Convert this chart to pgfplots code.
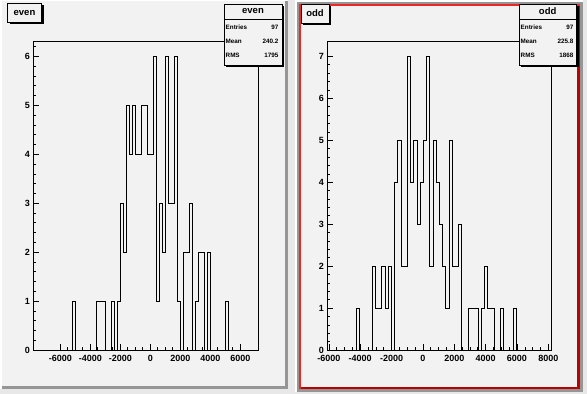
\documentclass[border=0pt]{standalone}
\usepackage{pgfplots}
\pgfplotsset{compat=1.18}
\usepackage{fontspec}
\setmainfont{Liberation Sans}
\definecolor{padbg}{RGB}{242,242,242}
\definecolor{canvasbg}{RGB}{232,232,232}
\definecolor{bevelgrey}{RGB}{150,150,150}
\definecolor{redlight}{RGB}{235,40,40}
\definecolor{reddark}{RGB}{190,0,0}
\pgfplotsset{roothist/.style={
  scale only axis, anchor=south west, height=308.3pt, ymin=0,
  axis line style={line width=0.8pt},
  tick align=inside, xtick pos=left, ytick pos=left,
  major tick length=6pt, minor tick length=3pt,
  tick style={black, line width=0.6pt},
  minor y tick num=4, minor x tick num=3,
  ticklabel style={font=\bfseries\fontsize{9}{9}\selectfont},
  xticklabel style={yshift=-1.5pt},
  ytick={0,1,2,3,4,5,6,7}, yticklabels={0,1,2,3,4,5,6,7},
}}
\newcommand{\shbox}[4]{%
  \fill[black] (#1+2,#2+2) rectangle (#3+2,#4+2);
  \filldraw[fill=padbg, draw=black, line width=0.8pt] (#1,#2) rectangle (#3,#4);
}
\newcommand{\bigf}{\bfseries\fontsize{9.5}{9.5}\selectfont}
\newcommand{\smallf}{\bfseries\fontsize{6.3}{6.3}\selectfont}
\begin{document}
\begin{tikzpicture}[x=1pt,y=1pt]
\useasboundingbox (0,0) rectangle (587,394);
\begin{scope}[shift={(0,394)}, yscale=-1]
\fill[canvasbg] (0,0) rectangle (587,394);
% left pad
\fill[white] (0,0) rectangle (287.5,389.5);
\fill[bevelgrey] (1.5,1.5) rectangle (287.5,389.5);
\fill[padbg] (1.5,1.5) rectangle (284.5,386.5);
% right pad
\fill[white] (295,0.5) rectangle (583,392);
\fill[bevelgrey] (297,2.5) rectangle (583,392);
\fill[redlight] (299,4) rectangle (580,389.3);
\fill[reddark] (301,6) rectangle (580,389.3);
\fill[padbg] (301,6) rectangle (577,386.7);
\end{scope}

% even histogram
\begin{axis}[roothist, at={(33.3pt,44pt)}, width=225pt,
  xmin=-7800, xmax=7200, ymax=6.3,
  xtick={-6000,-4000,-2000,0,2000,4000,6000},
  xticklabels={-6000,-4000,-2000,0,2000,4000,6000}]
\addplot[const plot, black, line width=0.9pt] table {
x y
-7800 0
-5200 1
-5000 0
-3600 1
-3000 0
-2600 1
-2400 0
-2200 1
-2000 3
-1800 2
-1600 5
-1400 4
-1200 5
-1000 4
-600 5
-200 4
200 6
400 1
600 3
800 2
1000 6
1200 3
1600 6
1800 1
2000 0
2200 2
2600 3
2800 0
3000 1
3200 2
3600 0
3800 2
4000 0
5000 1
5200 0
7200 0
};
\end{axis}

% odd histogram
\begin{axis}[roothist, at={(327.3pt,44pt)}, width=224.4pt,
  xmin=-6100, xmax=8215, ymax=7.35,
  xtick={-6000,-4000,-2000,0,2000,4000,6000,8000},
  xticklabels={-6000,-4000,-2000,0,2000,4000,6000,8000}]
\addplot[const plot, black, line width=0.9pt] table {
x y
-6100 0
-4259.5 1
-4055 0
-3237 2
-3032.5 1
-2623.5 2
-2419 1
-2214.5 2
-2010 0
-1805.5 4
-1601 5
-1396.5 2
-987.5 7
-783 4
-578.5 5
-374 3
-169.5 4
35 5
239.5 7
444 2
648.5 5
853 4
1057.5 3
1262 2
1466.5 1
1671 5
1875.5 2
2284.5 3
2489 0
2898 1
3511.5 0
3716 1
3920.5 2
4125 1
4534 0
4943 1
5147.5 0
5761 1
5965.5 0
8215 0
};
\end{axis}

\begin{scope}[shift={(0,394)}, yscale=-1]
% title boxes
\shbox{7.5}{3.5}{41.5}{22.5}
\node[font=\bigf, inner sep=0] at (24.5,13) {even};
\shbox{301}{4.5}{329}{23}
\node[font=\bigf, inner sep=0] at (315,13.5) {odd};
% stats even
\shbox{224}{4}{282}{65}
\draw[line width=0.6pt] (224,19) -- (282,19);
\node[font=\bigf, inner sep=0] at (253,11) {even};
\node[font=\smallf, inner sep=0, anchor=west] at (225.5,27.5) {Entries};
\node[font=\smallf, inner sep=0, anchor=east] at (278.5,27.5) {97};
\node[font=\smallf, inner sep=0, anchor=west] at (225.5,41.7) {Mean};
\node[font=\smallf, inner sep=0, anchor=east] at (278.5,41.7) {240.2};
\node[font=\smallf, inner sep=0, anchor=west] at (225.5,55.7) {RMS};
\node[font=\smallf, inner sep=0, anchor=east] at (278.5,55.7) {1795};
% stats odd
\shbox{519}{4}{576.5}{65}
\draw[line width=0.6pt] (519,19) -- (576.5,19);
\node[font=\bigf, inner sep=0] at (547.7,11) {odd};
\node[font=\smallf, inner sep=0, anchor=west] at (520.5,27.5) {Entries};
\node[font=\smallf, inner sep=0, anchor=east] at (573.5,27.5) {97};
\node[font=\smallf, inner sep=0, anchor=west] at (520.5,41.7) {Mean};
\node[font=\smallf, inner sep=0, anchor=east] at (573.5,41.7) {225.8};
\node[font=\smallf, inner sep=0, anchor=west] at (520.5,55.7) {RMS};
\node[font=\smallf, inner sep=0, anchor=east] at (573.5,55.7) {1868};
\end{scope}
\end{tikzpicture}
\end{document}
